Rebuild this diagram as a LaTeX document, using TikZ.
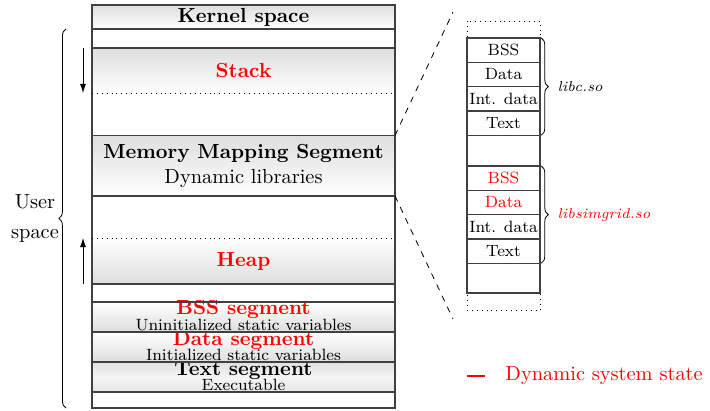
\documentclass[tikz,border=0pt]{standalone}
\usetikzlibrary{arrows.meta,decorations.pathreplacing}
\begin{document}
\begin{tikzpicture}[x=0.49pt, y=-0.49pt,
    seg/.style = {minimum width=148.47pt, inner sep=0pt, outer sep=0pt},
    segh/.style = {minimum height=#1*0.49pt},
    fadedown/.style = {top color=black!13, bottom color=white},
    fadeup/.style = {top color=white, bottom color=black!13},
    border/.style = {draw=black!75, line width=0.7pt},
    libbox/.style = {draw=black!75, line width=0.6pt, minimum width=35.77pt,
        minimum height=11.9pt, inner sep=0pt, outer sep=0pt, font=\footnotesize},
    seglbl/.style = {anchor=base, inner sep=0pt, font=\bfseries},
    segnote/.style = {anchor=base, inner sep=0pt, font=\footnotesize},
    dyn/.style = {text=red},
    brc/.style = {decorate, decoration={brace, amplitude=3.5pt}}]
    \useasboundingbox (0,0) rectangle (710,410);
    %Shaded segments
    \node[seg, segh=24, fadedown, font=\bfseries] (kernel) at (243.5,17) {Kernel space};
    \node[seg, segh=45, fadedown, font=\bfseries, dyn] (stack) at (243.5,70.5) {Stack};
    \node[seg, segh=60.5, fadedown, align=center] (mms) at (243.5,165.75)
        {\textbf{Memory Mapping Segment}\\Dynamic libraries};
    \node[seg, segh=46, fadeup, font=\bfseries, dyn] (heap) at (243.5,261) {Heap};
    \node[seg, segh=30, fadeup] (bssseg) at (243.5,317) {};
    \node[seg, segh=30, fadeup] (dataseg) at (243.5,347) {};
    \node[seg, segh=30, top color=black!12, bottom color=black!10,
        middle color=black!4] (textseg) at (243.5,377) {};
    %Segment labels
    \node[seglbl, dyn] (bsslbl) at (243.5,314.5) {BSS segment};
    \node[segnote] (bssnote) at (243.5,330.5) {Uninitialized static variables};
    \node[seglbl, dyn] (datalbl) at (243.5,345.5) {Data segment};
    \node[segnote] (datanote) at (243.5,360.5) {Initialized static variables};
    \node[seglbl] (textlbl) at (243.5,375.5) {Text segment};
    \node[segnote] (textnote) at (243.5,390.5) {Executable};
    %Borders
    \draw[border] (92,5) rectangle (395,408);
    \foreach \y in {29,48,135.5,196,284,302,332,362,392}
        \draw[border] (92,\y) -- (395,\y);
    \draw[dotted] (92,93) -- (395,93);
    \draw[dotted] (92,238) -- (395,238);
    %Growth
    \draw[-{Latex[length=4.5pt,width=3pt]}] (83,48) -- (83,93);
    \draw[-{Latex[length=4.5pt,width=3pt]}] (83,284) -- (83,238);
    %User space
    \draw[brc] (66,408) -- (66,29);
    \node[align=center] (user) at (35,219) {User\\[2.7pt]space};
    %Zoom on the mapping segment
    \coordinate (zoomtop) at (453,12);
    \coordinate (zoombot) at (453,319);
    \draw[dashed] (mms.north east) -- (zoomtop);
    \draw[dashed] (mms.south east) -- (zoombot);
    \draw[dotted] (467,21) rectangle (540,310);
    \draw[border, line width=0.6pt] (467,38) rectangle (540,293);
    %libc
    \node[libbox] (cbss) at (503.5,50.15) {BSS};
    \node[libbox] (cdata) at (503.5,74.45) {Data};
    \node[libbox] (cint) at (503.5,98.75) {Int. data};
    \node[libbox] (ctext) at (503.5,123.05) {Text};
    \draw[brc] ([xshift=0.6pt]cbss.north east) -- ([xshift=0.6pt]ctext.south east)
        node[midway, right=4.5pt, font=\scriptsize\itshape] (libc) {libc.so};
    %libsimgrid
    \node[libbox, dyn] (sbss) at (503.5,178.15) {BSS};
    \node[libbox, dyn] (sdata) at (503.5,202.45) {Data};
    \node[libbox] (sint) at (503.5,226.75) {Int. data};
    \node[libbox] (stext) at (503.5,251.05) {Text};
    \draw[brc] ([xshift=0.6pt]sbss.north east) -- ([xshift=0.6pt]stext.south east)
        node[midway, right=4.5pt, font=\scriptsize\itshape, dyn] (libsg) {libsimgrid.so};
    %Legend
    \coordinate (legmark) at (467,376);
    \draw[red, line width=1.2pt] (legmark) -- ++(18,0);
    \node[anchor=west, dyn, inner sep=0pt] (legend) at (505,376) {Dynamic system state};
\end{tikzpicture}
\end{document}
